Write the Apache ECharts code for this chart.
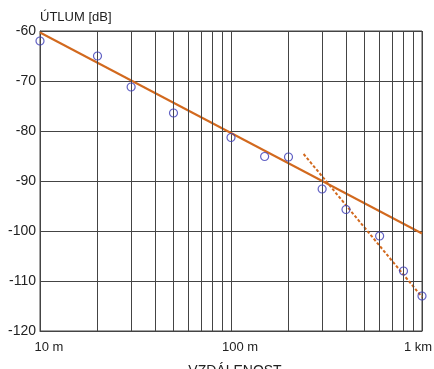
<!DOCTYPE html>
<html>
<head>
<meta charset="utf-8">
<script src="https://cdn.jsdelivr.net/npm/echarts@6/dist/echarts.min.js"></script>
<style>
html,body{margin:0;padding:0;background:#fff;}
#c{width:434px;height:369px;}
</style>
</head>
<body>
<div id="c"></div>
<script>
// measured points
const distances = [10, 20, 30, 50, 100, 150, 200, 300, 400, 600, 800, 1000];
const attenuation = [-62, -65, -71.2, -76.4, -81.3, -85.1, -85.2, -91.6, -95.7, -101, -108, -113];
// fit lines
const solidFitX = [10, 1000];
const solidFitY = [-60.3, -100.5];
const dashFitX = [240, 1000];
const dashFitY = [-84.6, -113.2];
// minor vertical grid lines (log positions)
const minorGridX = [20, 30, 40, 50, 60, 70, 80, 90, 200, 300, 400, 500, 600, 700, 800, 900];
// tick labels
const xTickLabels = {10: '10 m', 100: '100 m', 1000: '1 km'};
const yTicks = [-120, -110, -100, -90, -80, -70, -60];

const FONT = 'Liberation Sans, Arial, sans-serif';
const gridColor = '#444';
const orange = '#D2691E';
const blue = '#3B3BB5';

const chart = echarts.init(document.getElementById('c'), null, {renderer: 'canvas'});
chart.setOption({
  backgroundColor: '#fff',
  animation: false,
  grid: {left: 40, right: 12, top: 31, bottom: 38, containLabel: false, outerBoundsMode: 'none',
         show: true, borderColor: gridColor, borderWidth: 1, backgroundColor: 'transparent'},
  xAxis: {
    type: 'log', logBase: 10, min: 10, max: 1000,
    name: 'VZDÁLENOST', nameLocation: 'middle', nameGap: 33,
    nameTextStyle: {fontFamily: FONT, fontSize: 14, color: '#222', padding: [0, 0, 0, 8]},
    axisLine: {show: true, lineStyle: {color: gridColor}},
    axisTick: {show: false},
    splitLine: {show: true, lineStyle: {color: gridColor, width: 1}},
    axisLabel: {
      margin: 10,
      fontFamily: FONT, fontSize: 13, color: '#222',
      formatter: function (v) {
        const r = Math.round(v);
        if (r === 1000) return '{e|' + xTickLabels[r] + '}';
        return '{s|' + (xTickLabels[r] || '') + '}';
      },
      rich: {
        s: {padding: [0, 0, 0, 18], fontFamily: FONT, fontSize: 13, color: '#222'},
        e: {padding: [0, 8, 0, 0], fontFamily: FONT, fontSize: 13, color: '#222'}
      }
    }
  },
  yAxis: {
    type: 'value', min: -120, max: -60, interval: 10,
    name: 'ÚTLUM [dB]', nameLocation: 'end', nameGap: 6,
    nameTextStyle: {fontFamily: FONT, fontSize: 13, color: '#222', align: 'left', verticalAlign: 'bottom'},
    axisLine: {show: true, lineStyle: {color: gridColor}},
    axisTick: {show: false},
    splitLine: {show: true, lineStyle: {color: gridColor, width: 1}},
    axisLabel: {margin: 4, fontFamily: FONT, fontSize: 14, color: '#222'}
  },
  series: [
    {
      type: 'line', silent: true, symbol: 'none',
      data: [],
      markLine: {
        silent: true, symbol: 'none', label: {show: false},
        lineStyle: {color: gridColor, width: 1, type: 'solid'},
        data: minorGridX.map(v => ({xAxis: v}))
      }
    },
    {
      type: 'line', symbol: 'none', silent: true,
      lineStyle: {color: orange, width: 2},
      data: solidFitX.map((x, i) => [x, solidFitY[i]])
    },
    {
      type: 'line', symbol: 'none', silent: true,
      lineStyle: {color: orange, width: 2, type: [3, 2]},
      data: dashFitX.map((x, i) => [x, dashFitY[i]])
    },
    {
      type: 'scatter', symbol: 'circle', symbolSize: 8,
      itemStyle: {color: 'rgba(255,255,255,0)', borderColor: blue, borderWidth: 1.2},
      data: distances.map((x, i) => [x, attenuation[i]]),
      z: 5
    }
  ]
});
</script>
</body>
</html>
